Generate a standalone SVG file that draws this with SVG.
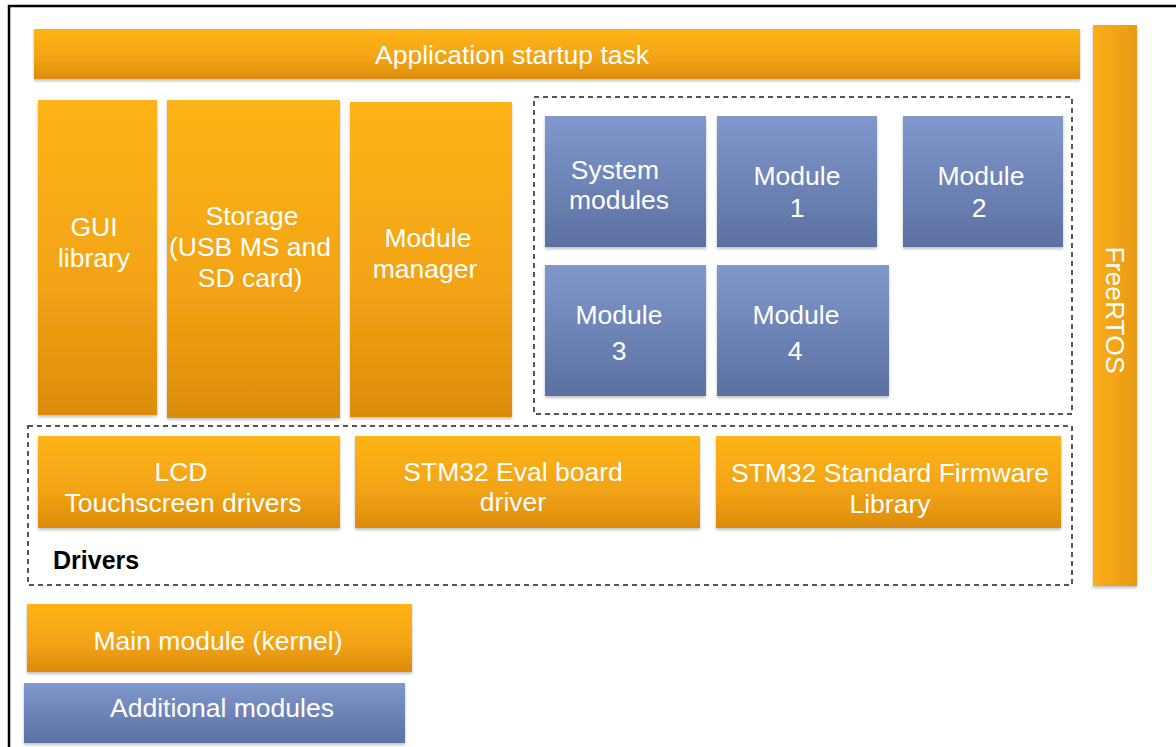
<svg xmlns="http://www.w3.org/2000/svg" width="1176" height="747" viewBox="0 0 1176 747">
<style>
.t{font-family:"Liberation Sans",Arial,sans-serif;font-size:26.5px;fill:#fff;text-anchor:middle}
.o{fill:url(#og);filter:url(#sh)}
.b{fill:url(#bg);filter:url(#sh)}
.d{fill:none;stroke:#555;stroke-width:2;stroke-dasharray:5 4}
</style>
<defs>
<linearGradient id="og" x1="0" y1="0" x2="0" y2="1">
<stop offset="0" stop-color="#FDB416"/>
<stop offset="0.6" stop-color="#F2A312"/>
<stop offset="1" stop-color="#DC8C10"/>
</linearGradient>
<linearGradient id="bg" x1="0" y1="0" x2="0" y2="1">
<stop offset="0" stop-color="#8198CC"/>
<stop offset="1" stop-color="#5C70A2"/>
</linearGradient>
<linearGradient id="fg" x1="0" y1="0" x2="1" y2="0">
<stop offset="0" stop-color="#FBAE14"/>
<stop offset="1" stop-color="#E89A12"/>
</linearGradient>
<filter id="sh" x="-5%" y="-5%" width="110%" height="115%">
<feDropShadow dx="0" dy="2" stdDeviation="1.5" flood-color="#000" flood-opacity="0.25"/>
</filter>
</defs>
<rect width="1176" height="747" fill="#fff"/>
<path d="M9 747V6H1176" fill="none" stroke="#000" stroke-width="2.5"/>
<g id="freertos"><rect x="1093" y="25" width="44" height="561" fill="url(#fg)" filter="url(#sh)"/><text class="t" transform="translate(1106 310) rotate(90)">FreeRTOS</text></g>
<g id="app"><rect class="o" x="34" y="29" width="1046" height="50"/><text class="t" x="512" y="64">Application startup task</text></g>
<g id="gui"><rect class="o" x="38" y="100" width="119" height="315"/><text class="t" x="94" y="236">GUI</text><text class="t" x="94" y="267">library</text></g>
<g id="storage"><rect class="o" x="167" y="100" width="173" height="318"/><text class="t" x="252" y="225">Storage</text><text class="t" x="250" y="256">(USB MS and</text><text class="t" x="250" y="287">SD card)</text></g>
<g id="manager"><rect class="o" x="350" y="102" width="162" height="315"/><text class="t" x="428" y="247">Module</text><text class="t" x="425" y="278">manager</text></g>
<g id="modules-box"><rect class="d" x="534" y="97" width="538" height="317"/></g>
<g id="sysmod"><rect class="b" x="545" y="116" width="161" height="131"/><text class="t" x="615" y="179">System</text><text class="t" x="619" y="209">modules</text></g>
<g id="mod1"><rect class="b" x="717" y="116" width="160" height="131"/><text class="t" x="797" y="185">Module</text><text class="t" x="797" y="217">1</text></g>
<g id="mod2"><rect class="b" x="903" y="116" width="160" height="131"/><text class="t" x="981" y="185">Module</text><text class="t" x="979" y="217">2</text></g>
<g id="mod3"><rect class="b" x="545" y="265" width="161" height="131"/><text class="t" x="619" y="324">Module</text><text class="t" x="619" y="360">3</text></g>
<g id="mod4"><rect class="b" x="717" y="265" width="172" height="131"/><text class="t" x="796" y="324">Module</text><text class="t" x="795" y="360">4</text></g>
<g id="drivers-box"><rect class="d" x="28" y="426" width="1044" height="159"/><text x="53" y="569" style="font-family:'Liberation Sans',Arial,sans-serif;font-size:25px;font-weight:bold;fill:#000">Drivers</text></g>
<g id="lcd"><rect class="o" x="38" y="436" width="302" height="92"/><text class="t" x="181" y="481">LCD</text><text class="t" x="183" y="512">Touchscreen drivers</text></g>
<g id="eval"><rect class="o" x="355" y="436" width="345" height="92"/><text class="t" x="513" y="481">STM32 Eval board</text><text class="t" x="513" y="511">driver</text></g>
<g id="stdlib"><rect class="o" x="716" y="436" width="345" height="92"/><text class="t" x="890" y="482">STM32 Standard Firmware</text><text class="t" x="890" y="513">Library</text></g>
<g id="legend-main"><rect class="o" x="27" y="604" width="385" height="68"/><text class="t" x="218" y="650">Main module (kernel)</text></g>
<g id="legend-add"><rect class="b" x="24" y="683" width="381" height="60"/><text class="t" x="222" y="717">Additional modules</text></g>
<g id="connectors"/>
</svg>
